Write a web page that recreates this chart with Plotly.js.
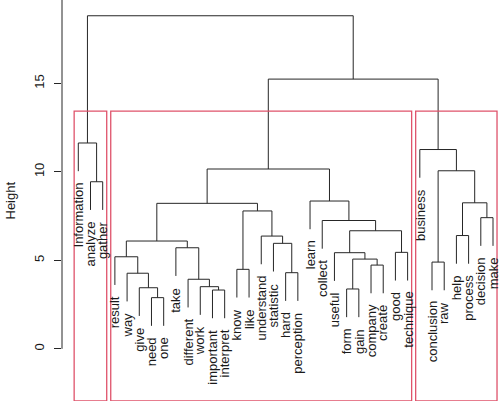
<!DOCTYPE html>
<html>
<head>
<meta charset="utf-8">
<script src="https://cdn.plot.ly/plotly-3.0.1.min.js"></script>
<style>html,body{margin:0;padding:0;background:#fff;}#chart{width:500px;height:403px;}</style>
</head>
<body>
<div id="chart"></div>
<script>
// Leaf labels in dendrogram order (left to right)
const leafLabels = ["Information","analyze","gather","result","way","give","need","one","take",
  "different","work","important","interpret","know","like","understand","statistic","hard",
  "perception","learn","collect","useful","form","gain","company","create","good","technique",
  "business","conclusion","raw","help","process","decision","make"];

// Merge steps (R hclust style): negative = leaf position (1-based), positive = earlier merge step
const mergeLeft  = [-7,-12,-23,-6,-11,-10,-5,-18,-14,-25,-30, 3,-4,-22,-27,-9,-17,13,-16,-32,14,-21,-34, 9,18,20,-20,-2,11,25,-29,-1,30,32];
const mergeRight = [-8,-13,-24, 1,  2,  5, 4,-19,-15,-26,-31,10, 7, 12,-28, 6,  8,16, 17,-33,15, 21,-35,19,24,23, 22,-3,26,27, 29,28,31,33];
const mergeHeight = [2.89,3.32,3.38,3.45,3.51,3.93,4.27,4.30,4.49,4.73,4.90,5.07,5.20,5.43,5.45,5.71,
  5.96,6.09,6.37,6.40,6.67,7.25,7.41,7.79,8.22,8.25,8.35,9.44,10.06,10.16,11.26,11.63,15.24,18.82];

const yTicks = [0,5,10,15];
const numClusters = 3;

const maxH = Math.max(...mergeHeight), minH = Math.min(...mergeHeight);
const hang = 0.1 * (maxH - minH);

const nodeX = [], nodeLeaves = [];
function childX(c){ return c < 0 ? -c : nodeX[c-1]; }
function childLeaves(c){ return c < 0 ? [-c] : nodeLeaves[c-1]; }
const xs = [], ys = [];
const leafEnd = {};
mergeHeight.forEach((h, i) => {
  const l = mergeLeft[i], r = mergeRight[i];
  const xl = childX(l), xr = childX(r);
  nodeX.push((xl + xr) / 2);
  nodeLeaves.push(childLeaves(l).concat(childLeaves(r)));
  const yl = l < 0 ? h - hang : mergeHeight[l-1];
  const yr = r < 0 ? h - hang : mergeHeight[r-1];
  if (l < 0) leafEnd[-l] = yl;
  if (r < 0) leafEnd[-r] = yr;
  xs.push(xl, xl, xr, xr, null);
  ys.push(yl, h, h, yr, null);
});

const trace = {x: xs, y: ys, type: 'scatter', mode: 'lines',
  line: {color: '#262626', width: 1}, hoverinfo: 'skip', showlegend: false};

const yRange = [-2.95, 19.71];

const annotations = leafLabels.map((lab, i) => ({
  x: i + 1, y: leafEnd[i + 1], xref: 'x', yref: 'y', text: lab, showarrow: false,
  textangle: -90, xanchor: 'center', yanchor: 'top', yshift: -9.5, xshift: 0,
  font: {family: 'Liberation Sans, Arial, sans-serif', size: 13, color: '#1a1a1a'}
}));
annotations.push({x: -0.1187, y: 0.5, xref: 'paper', yref: 'paper', text: 'Height', showarrow: false,
  textangle: -90, xanchor: 'center', yanchor: 'middle',
  font: {family: 'Liberation Sans, Arial, sans-serif', size: 13, color: '#1a1a1a'}});

// rect.hclust boxes for k clusters
const n = mergeHeight.length;
let clusters = [n];
while (clusters.length < numClusters) {
  const idx = clusters.reduce((a, c, j) => (c > 0 && (a < 0 || c > clusters[a]) ? j : a), -1);
  const c = clusters[idx];
  clusters.splice(idx, 1, mergeLeft[c-1], mergeRight[c-1]);
}
const sortedH = mergeHeight.slice().sort((a, b) => b - a);
const rectTop = (sortedH[numClusters - 2] + sortedH[numClusters - 1]) / 2;
const shapes = clusters.map(c => {
  const lv = childLeaves(c);
  return {type: 'rect', xref: 'x', yref: 'y', x0: Math.min(...lv) - 0.34, x1: Math.max(...lv) + 0.33,
    y0: yRange[0], y1: rectTop, line: {color: '#DF536B', width: 1.3}, fillcolor: 'rgba(0,0,0,0)'};
});
shapes.push({type: 'line', xref: 'paper', yref: 'y', x0: 0, x1: 0, y0: 0, y1: yRange[1],
  line: {color: '#262626', width: 1}});

const layout = {
  width: 500, height: 403,
  margin: {l: 62, r: 0, t: 0, b: 2, pad: 0},
  paper_bgcolor: '#fff', plot_bgcolor: '#fff',
  xaxis: {range: [-0.3364, 35.574], showgrid: false, zeroline: false, showticklabels: false,
    ticks: '', showline: false, fixedrange: true},
  yaxis: {range: yRange, tickvals: yTicks, ticktext: yTicks.map(String), ticks: 'outside', ticklen: 7,
    tickcolor: '#262626', tickwidth: 1, tickangle: -90, ticklabelstandoff: 5,
    showgrid: false, zeroline: false, showline: false,
    tickfont: {family: 'Liberation Sans, Arial, sans-serif', size: 13, color: '#1a1a1a'}, fixedrange: true},
  shapes: shapes, annotations: annotations, showlegend: false
};
Plotly.newPlot('chart', [trace], layout, {displayModeBar: false, staticPlot: true});
</script>
</body>
</html>
